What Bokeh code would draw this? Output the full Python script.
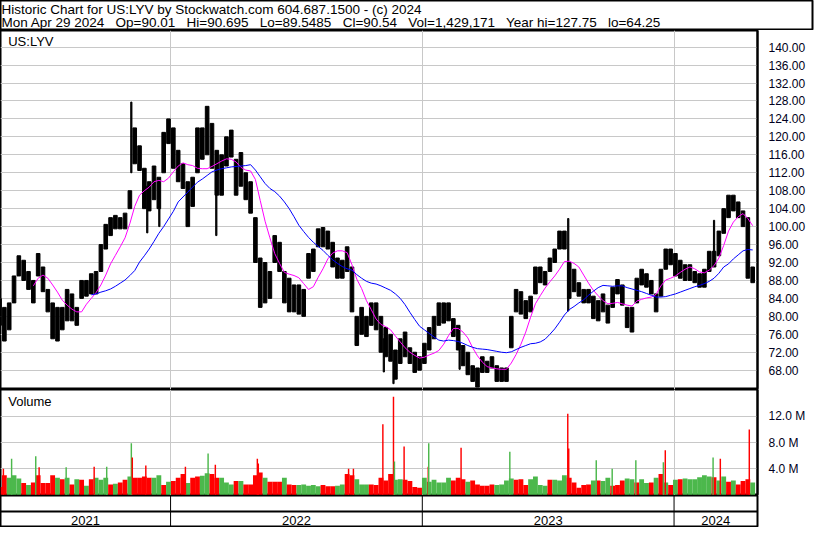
import pandas as pd
from bokeh.plotting import figure
from bokeh.models import Range1d, LinearAxis, FixedTicker, Grid, Span, Label, NumeralTickFormatter
from bokeh.layouts import column
from bokeh.embed import file_html
from bokeh.resources import INLINE
from bokeh.core.properties import value

FONT = "Liberation Sans"

# ---------------- data (weekly) ----------------
week0 = pd.Timestamp("2021-04-28")   # centre of week 0
years = ["2021", "2022", "2023", "2024"]

high = [84, 82, 83, 89, 93.5, 92.5, 90, 88, 94, 91,
        86, 83, 82, 82, 86, 85, 82, 88, 88, 89.5,
        90, 96, 100.5, 102, 102.5, 102, 103, 108, 122, 118,
        113, 110, 113.5, 111, 121, 124, 122, 117, 114, 110,
        111, 122, 122, 126.8, 123, 117, 116, 120, 121.5, 115,
        116.5, 112, 110, 102, 93, 92, 90, 98, 96.5, 90,
        88.5, 87, 87, 86, 94, 95, 99.5, 99.8, 99, 96.5,
        93, 92.5, 95.5, 91, 80, 82, 80, 83, 83, 80,
        77.5, 76, 72.5, 75, 76.5, 73, 72, 71, 74, 77.5,
        80, 83, 83, 83, 79.5, 78, 73.5, 72, 69, 68.5,
        71, 70, 71, 69, 68.5, 68.5, 80, 86, 85.5, 83.5,
        84.5, 91, 91, 90, 93, 95, 99, 99, 92, 90.5,
        87.5, 86, 86, 84.5, 83.5, 85, 82.5, 86.5, 88.2, 87,
        82, 82, 88.5, 90.5, 89.5, 88, 85, 90.5, 95, 95,
        94, 92.5, 91.5, 91.5, 90, 89.5, 90.5, 94.5, 94.5, 99,
        104, 107, 107, 105.5, 103.5, 102, 91]
low = [78, 74.5, 77, 83, 89, 88, 86, 83, 89, 85.5,
       81, 75, 74.5, 77, 79, 79, 78, 84, 84.5, 85,
       85, 90, 95, 98, 99.5, 99.5, 99.5, 104, 114, 112.5,
       104, 103.5, 106, 104, 112, 118.5, 113, 110, 108.5, 100,
       104.5, 112, 115, 116, 113, 107, 107, 113.5, 115.5, 107,
       109, 106, 103, 92, 82, 83, 84, 92, 90, 83,
       81, 81, 80.5, 80, 88.5, 90, 95.5, 95.5, 95, 91,
       88.5, 88.5, 90, 81, 73.5, 76, 75.5, 78, 77, 72,
       71, 70, 66, 69.5, 71, 69.5, 67.5, 68, 69.5, 72.5,
       75, 78, 78.5, 79, 75.5, 72.5, 69, 67, 65.5, 64.25,
       67.5, 67.5, 68.5, 65.5, 65.5, 65.5, 73, 81, 80.5, 79.5,
       81, 85, 87.5, 87, 90, 92, 95, 95, 84, 85.5,
       84.5, 83, 83, 79.5, 79, 81, 78.5, 82, 85, 82.5,
       77.5, 76.5, 83, 87, 86.5, 85, 81, 84.5, 90.5, 91.5,
       89, 88.5, 88, 88, 87.5, 86.5, 86.5, 90, 91, 93.5,
       98.5, 102, 103.5, 102, 100, 88.5, 87.5]

# single-day spikes (week position, low, high)
spike_x = [27.3, 30.6, 33.1, 44.9, 79.6, 81.6, 95.3, 117.8, 148.0]
spike_lo = [112, 98.6, 100, 98, 67.6, 65, 68.2, 81.2, 92]
spike_hi = [127.75, 109, 108, 110, 75, 70, 74, 101.8, 101.4]

# moving averages (fast starts at week 7, slow at week 19)
ma_fast_start = 7
ma_fast = [86.8, 88.5, 89.2, 88.5, 87, 85.4, 83.6, 82.5, 81.6, 81.0,
           81.0, 82.7, 84, 85.3, 87, 89.2, 91.7, 93.6, 95.5, 97.5,
           100.7, 104.5, 107, 108, 108.8, 110, 110.3, 110, 110.8, 112.2,
           113.5, 114.2, 113.8, 113.6, 113, 112.9, 112.9, 113.4, 114, 114.6,
           115.1, 115, 114.4, 113.2, 112.6, 112.4, 110.5, 105.8, 101.2, 97.5,
           94, 91.8, 89.8, 89.4, 89.1, 88.6, 87.3, 86, 86.6, 88.7,
           90.6, 92.8, 94.1, 94.6, 94.6, 94.2, 91.5, 88.3, 86.2, 83.5,
           81.5, 79.4, 78.2, 77.7, 77, 75.6, 74.3, 73, 72, 71.3,
           70.7, 70.9, 71.4, 71.8, 72.4, 73.8, 75.7, 77.3, 77.3, 76.5,
           75.2, 73, 71.2, 69.8, 68.8, 68.5, 68.3, 68.2, 68.2, 69.6,
           71.5, 73.8, 76.5, 79.8, 82.8, 84.6, 86.3, 87.7, 89, 90.5,
           92.2, 92.3, 91.8, 91, 89.2, 87.4, 85.8, 84.6, 83.5, 82.8,
           82.9, 83.1, 82.8, 82.5, 82.3, 83.4, 83.8, 84.1, 84.3, 84.9,
           86.8, 88.1, 88.5, 89, 89.8, 90.5, 91, 90.6, 89.9, 89.7,
           90.3, 91.3, 93, 95.8, 99, 101, 102.2, 102.9, 101.8, 100.2]
ma_slow_start = 19
ma_slow = [84.8, 85, 85.4, 85.7, 86.1, 86.7, 87.4, 88.1, 89.1, 90.2,
           92.1, 93.5, 95, 96.7, 98.5, 100, 101.7, 103.4, 105.5, 106.6,
           107.7, 108.8, 109.9, 110.6, 111.4, 112.2, 112.6, 112.9, 113.1, 113.3,
           113.4, 113.5, 113.6, 113.8, 112.6, 111.1, 109.6, 108.5, 107.8, 106.8,
           105.5, 104, 102.2, 100.3, 98.9, 97.6, 96.5, 95.6, 94.7, 93.6,
           92.6, 91.8, 91.1, 90.6, 90.3, 89.3, 88.5, 87.8, 87.4, 87.2,
           86.8, 86.3, 85.8, 85, 84, 82.6, 80.9, 79.3, 77.8, 77,
           76.2, 75.4, 74.7, 74.5, 74.7, 74.6, 74.4, 74, 73.5, 73.1,
           72.8, 72.7, 72.6, 72.4, 72.2, 72, 71.9, 72.1, 72.6, 73.1,
           73.5, 73.9, 74, 74.3, 74.9, 76, 77.2, 78.7, 80.3, 81.5,
           82.2, 83, 83.7, 84.7, 85.6, 86.4, 86.9, 86.8, 86.7, 86.8,
           86.8, 86.4, 86.1, 85.8, 85.5, 85.1, 84.7, 84.3, 84.3, 84.4,
           84.7, 85, 85.4, 85.8, 86.2, 86.6, 86.9, 87.3, 87.8, 88.5,
           89.6, 91, 91.7, 92.8, 93.7, 94.6, 94.9, 94.8]

# typical weekly volume (millions) and direction (r = down, g = up)
vol_m = [1.2, 3.0, 2.6, 3.0, 2.5, 1.8, 1.5, 1.9, 3.0, 1.8,
         1.8, 3.0, 2.6, 2.4, 2.6, 1.6, 2.4, 2.3, 1.4, 2.4,
         2.6, 2.3, 2.6, 1.6, 1.7, 1.9, 2.3, 2.8, 2.6, 2.6,
         2.8, 2.6, 2.6, 3.0, 1.5, 2.0, 2.1, 2.6, 3.2, 1.8,
         2.6, 2.8, 2.9, 3.3, 3.2, 2.6, 2.6, 1.9, 1.6, 2.1,
         2.1, 1.6, 1.6, 3.0, 3.4, 2.6, 2.0, 2.0, 2.0, 2.6,
         1.6, 1.5, 1.5, 1.6, 1.4, 1.5, 1.3, 1.5, 1.3, 1.3,
         1.4, 1.6, 3.2, 3.0, 2.4, 1.6, 1.6, 1.6, 1.5, 2.6,
         2.2, 3.2, 2.3, 2.4, 2.3, 2.1, 1.2, 1.1, 2.6, 2.0,
         2.3, 1.9, 1.9, 2.6, 2.2, 2.6, 2.4, 2.0, 2.2, 1.6,
         1.4, 1.4, 1.6, 1.5, 1.6, 2.2, 2.5, 2.3, 2.4, 1.5,
         2.4, 2.8, 1.5, 1.4, 2.3, 2.3, 2.2, 3.0, 2.6, 1.9,
         1.1, 1.5, 1.6, 2.2, 2.2, 2.1, 2.6, 1.4, 1.5, 2.2,
         2.5, 2.4, 1.9, 2.4, 1.8, 1.9, 2.6, 3.2, 1.9, 1.5,
         2.3, 2.4, 2.5, 2.4, 2.4, 2.7, 3.0, 2.8, 2.7, 2.2,
         2.8, 2.0, 2.2, 1.6, 2.1, 2.4, 1.9]
vol_dir = ("rrgggrgrrr" "rrgrgrgrgr" "gggrgrrgrr" "rrggrgrrrg" "rrggrrgggr"
           "grrrrgrrrg" "rrgggggrrr" "ggrrgggrrr" "rrggrrrrgg" "ggggrrrgrr"
           "rrrggggrrr" "ggggrgggrr" "rrrgrggrrr" "ggrggrgrgr" "grggggggrg"
           "grgrrrg")
# single-day volume bars that stand out (week position, millions, direction)
vspike_x = [0.8, 2.5, 7.5, 8.2, 13.8, 19.6, 22.2, 27.3, 27.5, 30.3,
            38.5, 43.2, 44.7, 53.4, 53.6, 72.3, 73.3, 79.4, 81.6, 81.8,
            83.8, 88.8, 88.9, 95.6, 105.7, 117.7, 117.9, 123.6, 126.9, 131.8,
            137.5, 137.9, 147.8, 149.3, 155.3]
vspike_m = [4.0, 5.5, 5.9, 4.2, 4.2, 4.3, 4.3, 7.9, 5.7, 4.5,
            4.3, 6.3, 4.6, 5.5, 4.8, 4.0, 4.0, 10.8, 15.0, 5.1,
            7.4, 4.3, 7.9, 7.2, 6.6, 12.4, 7.1, 5.3, 4.0, 5.3,
            5.0, 6.8, 5.7, 5.5, 10.0]
vspike_dir = "rggrgrgg" "rr" "rgrrr" "rrrrg" "rrgrgrrggg" "grgrr"

price_ticks = list(range(68, 141, 4))
vol_ticks = [4, 8, 12]
vol_labels = {4: "4.0 M", 8: "8.0 M", 12: "12.0 M"}

title1 = "Historic Chart for US:LYV by Stockwatch.com 604.687.1500 - (c) 2024"
title2 = ("Mon Apr 29 2024 \u00a0 Op=90.01 \u00a0 Hi=90.695 \u00a0 Lo=89.5485 \u00a0 "
          "Cl=90.54 \u00a0 Vol=1,429,171 \u00a0 Year hi=127.75 \u00a0 lo=64.25")

# ---------------- layout constants ----------------
W = 814
RB = 57            # right label area
XR = (0.2, 157.0)  # week range
GRID = "#c8c8c8"
COLORS = {"r": "#ff0000", "g": "#4cb84c"}

weeks = list(range(len(high)))
year_bounds = [(pd.Timestamp(f"{y}-01-01") - week0).days / 7 for y in years[1:]]
edges = [XR[0]] + year_bounds + [XR[1]]
year_mid = [(a + b) / 2 for a, b in zip(edges[:-1], edges[1:])]


def no_align(f):
    try:
        f.frame_align = False
    except Exception:
        pass


def base_fig(h, yr, rb=RB):
    f = figure(width=W, height=h, x_range=Range1d(*XR), y_range=yr,
               output_backend="svg", toolbar_location=None,
               x_axis_location=None, y_axis_location=None,
               min_border_left=0, min_border_right=rb, min_border_top=0, min_border_bottom=0)
    f.outline_line_color = "black"
    f.outline_line_width = 2
    f.xgrid.visible = False
    f.ygrid.visible = False
    return f


# ---------------- title box ----------------
t = figure(width=W, height=30, x_range=Range1d(0, W - 2), y_range=Range1d(0, 30),
           output_backend="svg", toolbar_location=None,
           x_axis_location=None, y_axis_location=None,
           min_border_left=0, min_border_right=2, min_border_top=0, min_border_bottom=0)
no_align(t)
t.outline_line_color = "black"
t.outline_line_width = 2
t.xgrid.visible = False
t.ygrid.visible = False
t.add_layout(Label(x=1, y=21.5, text=title1, text_font=FONT, text_font_size="13.5px",
                   text_baseline="middle", text_color="black"))
t.add_layout(Label(x=1, y=8.5, text=title2, text_font=FONT, text_font_size="13.5px",
                   text_baseline="middle", text_color="black"))

# ---------------- price panel ----------------
p = base_fig(359, Range1d(63.7, 143.7))
p.add_layout(Grid(dimension=1, ticker=FixedTicker(ticks=price_ticks), grid_line_color=GRID))
p.add_layout(Grid(dimension=0, ticker=FixedTicker(ticks=year_bounds), grid_line_color=GRID))
p.vbar(x=weeks, bottom=low, top=high, width=0.75, color="black")
p.vbar(x=spike_x, bottom=spike_lo, top=spike_hi, width=0.25, color="black")
p.line(list(range(ma_fast_start, ma_fast_start + len(ma_fast))), ma_fast, color="#ff00ff", line_width=1)
p.line(list(range(ma_slow_start, ma_slow_start + len(ma_slow))), ma_slow, color="#0000ff", line_width=1)
pax = LinearAxis(ticker=FixedTicker(ticks=price_ticks), formatter=NumeralTickFormatter(format="0.00"),
                 axis_line_color="black", axis_line_width=2,
                 major_tick_line_color=None, minor_tick_line_color=None,
                 major_label_text_font=FONT, major_label_text_font_size="12px",
                 major_label_text_color="#000020", major_label_standoff=5)
p.add_layout(pax, "right")
p.add_layout(Label(x=1.8, y=141.3, text="US:LYV", text_font=FONT, text_font_size="13px",
                   text_baseline="middle", text_color="black"))

# ---------------- volume panel ----------------
v = base_fig(106, Range1d(-0.1, 16.1))
v.add_layout(Grid(dimension=1, ticker=FixedTicker(ticks=vol_ticks), grid_line_color=GRID))
v.add_layout(Grid(dimension=0, ticker=FixedTicker(ticks=year_bounds), grid_line_color=GRID))
v.vbar(x=weeks, bottom=0, top=vol_m, width=1.0, line_color=None,
       fill_color=[COLORS[c] for c in vol_dir])
v.vbar(x=vspike_x, bottom=0, top=vspike_m, width=0.3, line_color=None,
       fill_color=[COLORS[c] for c in vspike_dir])
vax = LinearAxis(ticker=FixedTicker(ticks=vol_ticks), major_label_overrides=vol_labels,
                 axis_line_color="black", axis_line_width=2,
                 major_tick_line_color=None, minor_tick_line_color=None,
                 major_label_text_font=FONT, major_label_text_font_size="12px",
                 major_label_text_color="#000020", major_label_standoff=5)
v.add_layout(vax, "right")
v.add_layout(Label(x=1.8, y=14.3, text="Volume", text_font=FONT, text_font_size="13px",
                   text_baseline="middle", text_color="black"))

# ---------------- year strip ----------------
xa = base_fig(32, Range1d(0, 2))
xa.add_layout(Span(location=1, dimension="width", line_color="black", line_width=2))
for b in year_bounds:
    xa.add_layout(Span(location=b, dimension="height", line_color="black", line_width=1))
xa.text(x=year_mid, y=[0.45] * len(years), text=years, text_align="center",
        text_baseline="middle", text_font=value(FONT), text_font_size="13px", text_color="black")

layout = column(t, p, v, xa, spacing=0)
open("out.html", "w").write(file_html(layout, INLINE))
